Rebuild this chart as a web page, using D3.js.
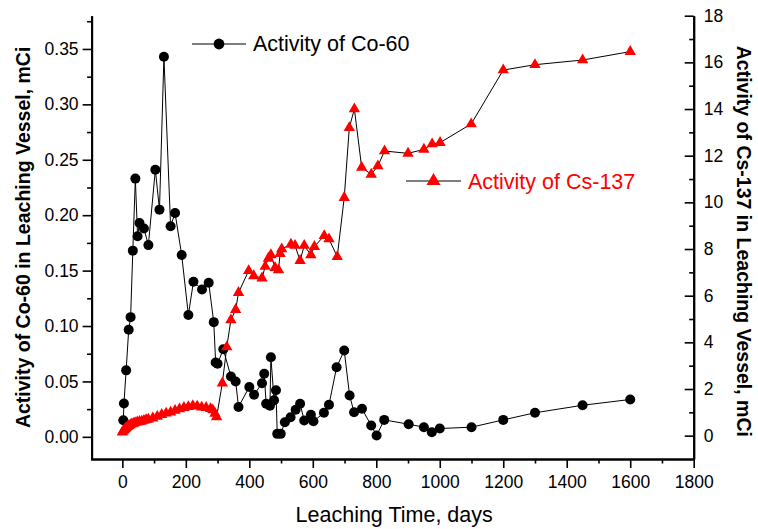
<!DOCTYPE html>
<html>
<head>
<meta charset="utf-8">
<script src="https://cdn.jsdelivr.net/npm/d3@7"></script>
<style>
    body { margin: 0; background: #fff; }
    svg { font-family: Arial, "Liberation Sans", sans-serif; }
</style>
</head>
<body>
<div id="chart"></div>
<script>
// Co-60 activity (mCi, left axis)
const coDays = [3, 5, 12, 20, 26, 33, 41, 48, 54, 68, 82, 104, 117, 131, 152, 166, 187, 208, 224, 251, 272,
    288, 294, 300, 318, 342, 357, 366, 400, 415, 440, 447, 453, 465, 468, 478, 484, 488, 499, 512, 530,
    546, 560, 573, 594, 602, 635, 651, 675, 699, 716, 730, 755, 784, 801, 825, 902, 950, 975, 1000,
    1100, 1200, 1300, 1450, 1600];
const coValues = [0.015, 0.03, 0.06, 0.0966, 0.108, 0.168, 0.233, 0.181, 0.193, 0.188, 0.173, 0.241, 0.205, 0.343,
    0.19, 0.202, 0.164, 0.11, 0.14, 0.133, 0.139, 0.1035, 0.067, 0.066, 0.079, 0.0544, 0.05, 0.027, 0.045,
    0.038, 0.0484, 0.057, 0.0298, 0.028, 0.0718, 0.033, 0.042, 0.0027, 0.0027, 0.0132, 0.0177, 0.0244,
    0.0298, 0.0147, 0.02, 0.014, 0.0217, 0.0289, 0.0628, 0.0779, 0.0373, 0.0222, 0.0253, 0.0102, 0.0012,
    0.0153, 0.0114, 0.0087, 0.0042, 0.0075, 0.0087, 0.0153, 0.0217, 0.0285, 0.0337];

// Cs-137 activity (mCi, right axis)
const csDays = [0, 3, 6, 9, 12, 16, 20, 25, 30, 35, 40, 47, 54, 61, 68, 75, 82, 96, 110, 124, 138, 152, 166,
    180, 194, 208, 222, 236, 250, 264, 278, 285, 292, 297, 315, 329, 342, 357, 366, 398, 414, 440, 450,
    460, 468, 481, 492, 497, 502, 531, 544, 560, 573, 594, 605, 636, 651, 677, 699, 715, 731, 754, 784,
    805, 826, 900, 950, 976, 1001, 1099, 1200, 1300, 1450, 1600];
const csValues = [0.15, 0.2, 0.25, 0.3, 0.34, 0.38, 0.42, 0.46, 0.5, 0.52, 0.55, 0.58, 0.6, 0.62, 0.65, 0.68,
    0.7, 0.75, 0.82, 0.9, 0.96, 1.0, 1.08, 1.14, 1.2, 1.24, 1.28, 1.26, 1.22, 1.2, 1.15, 1.1, 0.95, 0.8,
    2.25, 3.8, 4.96, 5.4, 6.13, 7.07, 6.85, 6.75, 7.25, 7.6, 7.75, 7.2, 7.1, 7.8, 8.0, 8.2, 8.15, 7.5,
    8.15, 7.75, 8.1, 8.57, 8.43, 7.67, 10.2, 13.2, 14.0, 11.5, 11.2, 11.56, 12.2, 12.1, 12.27, 12.5,
    12.56, 13.36, 15.67, 15.9, 16.1, 16.46];

const xTicks = [0, 200, 400, 600, 800, 1000, 1200, 1400, 1600, 1800];
const leftTicks = [0, 0.05, 0.10, 0.15, 0.20, 0.25, 0.30, 0.35];
const rightTicks = [0, 2, 4, 6, 8, 10, 12, 14, 16, 18];

const labels = {
    x: 'Leaching Time, days',
    left: 'Activity of Co-60 in Leaching Vessel, mCi',
    right: 'Activity of Cs-137 in Leaching Vessel, mCi',
    co: 'Activity of Co-60',
    cs: 'Activity of Cs-137'
};

var state = {
    width: 758,
    height: 529,
    left: 90.6,
    right: 693.7,
    top: 15.7,
    bottom: 459,
    coColor: '#000000',
    csColor: '#ff0000'
};

let svg = d3.select('#chart')
    .append('svg')
        .attr('width', state.width)
        .attr('height', state.height);

let x = d3.scaleLinear().domain([-100, 1800]).range([state.left, state.right]);
let yLeft = d3.scaleLinear().domain([-0.02, 0.38]).range([state.bottom, state.top]);
let yRight = d3.scaleLinear().domain([-1, 18]).range([state.bottom, state.top]);

drawAxes();
drawSeries();
drawLegend();
drawTitles();

function styleAxis(g){
    g.select('.domain').attr('stroke', '#000').attr('stroke-width', 2);
    g.selectAll('.tick line').attr('stroke', '#000').attr('stroke-width', 1.6);
    g.selectAll('.tick text')
        .attr('fill', '#000')
        .style('font-size', '17.5px');
}

function drawAxes(){
    // minor ticks first so the labelled ones sit on top
    svg.append('g')
        .attr('transform', `translate(0,${state.bottom})`)
        .call(d3.axisBottom(x).tickValues(d3.range(100, 1800, 200)).tickSize(4.5).tickFormat('').tickSizeOuter(0))
        .call(styleAxis);
    svg.append('g')
        .attr('transform', `translate(0,${state.bottom})`)
        .call(d3.axisBottom(x).tickValues(xTicks).tickSize(9).tickPadding(8).tickSizeOuter(0).tickFormat(d3.format('d')))
        .call(styleAxis);

    let x0 = x(-100) + 1;
    svg.append('g')
        .attr('transform', `translate(${x0},0)`)
        .call(d3.axisLeft(yLeft).tickValues(d3.range(0.025, 0.38, 0.05)).tickSize(4.5).tickFormat('').tickSizeOuter(0))
        .call(styleAxis);
    svg.append('g')
        .attr('transform', `translate(${x0},0)`)
        .call(d3.axisLeft(yLeft).tickValues(leftTicks).tickSize(9).tickPadding(4).tickSizeOuter(0).tickFormat(d3.format('.2f')))
        .call(styleAxis);

    // right axis: ticks point into the plot
    let x1 = x(1800);
    svg.append('g')
        .attr('transform', `translate(${x1},0)`)
        .call(d3.axisRight(yRight).tickValues(d3.range(1, 18, 2)).tickSize(-4.5).tickFormat('').tickSizeOuter(0))
        .call(styleAxis);
    svg.append('g')
        .attr('transform', `translate(${x1},0)`)
        .call(d3.axisRight(yRight).tickValues(rightTicks).tickSize(-9).tickPadding(10).tickSizeOuter(0))
        .call(styleAxis);
}

function drawSeries(){
    let co = coDays.map((d, i) => [d, coValues[i]]);
    let cs = csDays.map((d, i) => [d, csValues[i]]);

    svg.append('path')
        .datum(co)
        .attr('fill', 'none')
        .attr('stroke', '#000')
        .attr('stroke-width', 1)
        .attr('d', d3.line().x(d => x(d[0])).y(d => yLeft(d[1])));

    svg.append('g')
        .selectAll('circle')
        .data(co)
        .enter()
        .append('circle')
            .attr('cx', d => x(d[0]))
            .attr('cy', d => yLeft(d[1]))
            .attr('r', 5)
            .attr('fill', state.coColor);

    svg.append('path')
        .datum(cs)
        .attr('fill', 'none')
        .attr('stroke', '#000')
        .attr('stroke-width', 1)
        .attr('d', d3.line().x(d => x(d[0])).y(d => yRight(d[1])));

    svg.append('g')
        .selectAll('path')
        .data(cs)
        .enter()
        .append('path')
            .attr('transform', d => `translate(${x(d[0])},${yRight(d[1])})`)
            .attr('d', d3.symbol().type(d3.symbolTriangle).size(56))
            .attr('fill', state.csColor);
}

function drawLegend(){
    let g = svg.append('g');
    // Co-60
    g.append('line')
        .attr('x1', 192).attr('x2', 246).attr('y1', 44).attr('y2', 44)
        .attr('stroke', '#000').attr('stroke-width', 1);
    g.append('circle')
        .attr('cx', 219).attr('cy', 44).attr('r', 5.4)
        .attr('fill', state.coColor);
    g.append('text')
        .attr('x', 253).attr('y', 50.5)
        .style('font-size', '21.5px')
        .attr('fill', '#000')
        .text(labels.co);
    // Cs-137
    g.append('line')
        .attr('x1', 406).attr('x2', 461).attr('y1', 181).attr('y2', 181)
        .attr('stroke', '#000').attr('stroke-width', 1);
    g.append('path')
        .attr('transform', 'translate(433.5,181)')
        .attr('d', d3.symbol().type(d3.symbolTriangle).size(85))
        .attr('fill', state.csColor);
    g.append('text')
        .attr('x', 468).attr('y', 188.5)
        .style('font-size', '21.5px')
        .attr('fill', state.csColor)
        .text(labels.cs);
}

function drawTitles(){
    let midY = (state.top + state.bottom) / 2;

    svg.append('text')
        .attr('x', (state.left + state.right) / 2 + 2)
        .attr('y', 522)
        .attr('text-anchor', 'middle')
        .style('font-size', '21.5px')
        .text(labels.x);

    svg.append('text')
        .attr('transform', `translate(30,${midY}) rotate(-90)`)
        .attr('text-anchor', 'middle')
        .style('font-size', '19.5px')
        .style('font-weight', 'bold')
        .text(labels.left);

    svg.append('text')
        .attr('transform', `translate(737,${midY + 4}) rotate(90)`)
        .attr('text-anchor', 'middle')
        .style('font-size', '19.5px')
        .style('font-weight', 'bold')
        .text(labels.right);
}
</script>
</body>
</html>
